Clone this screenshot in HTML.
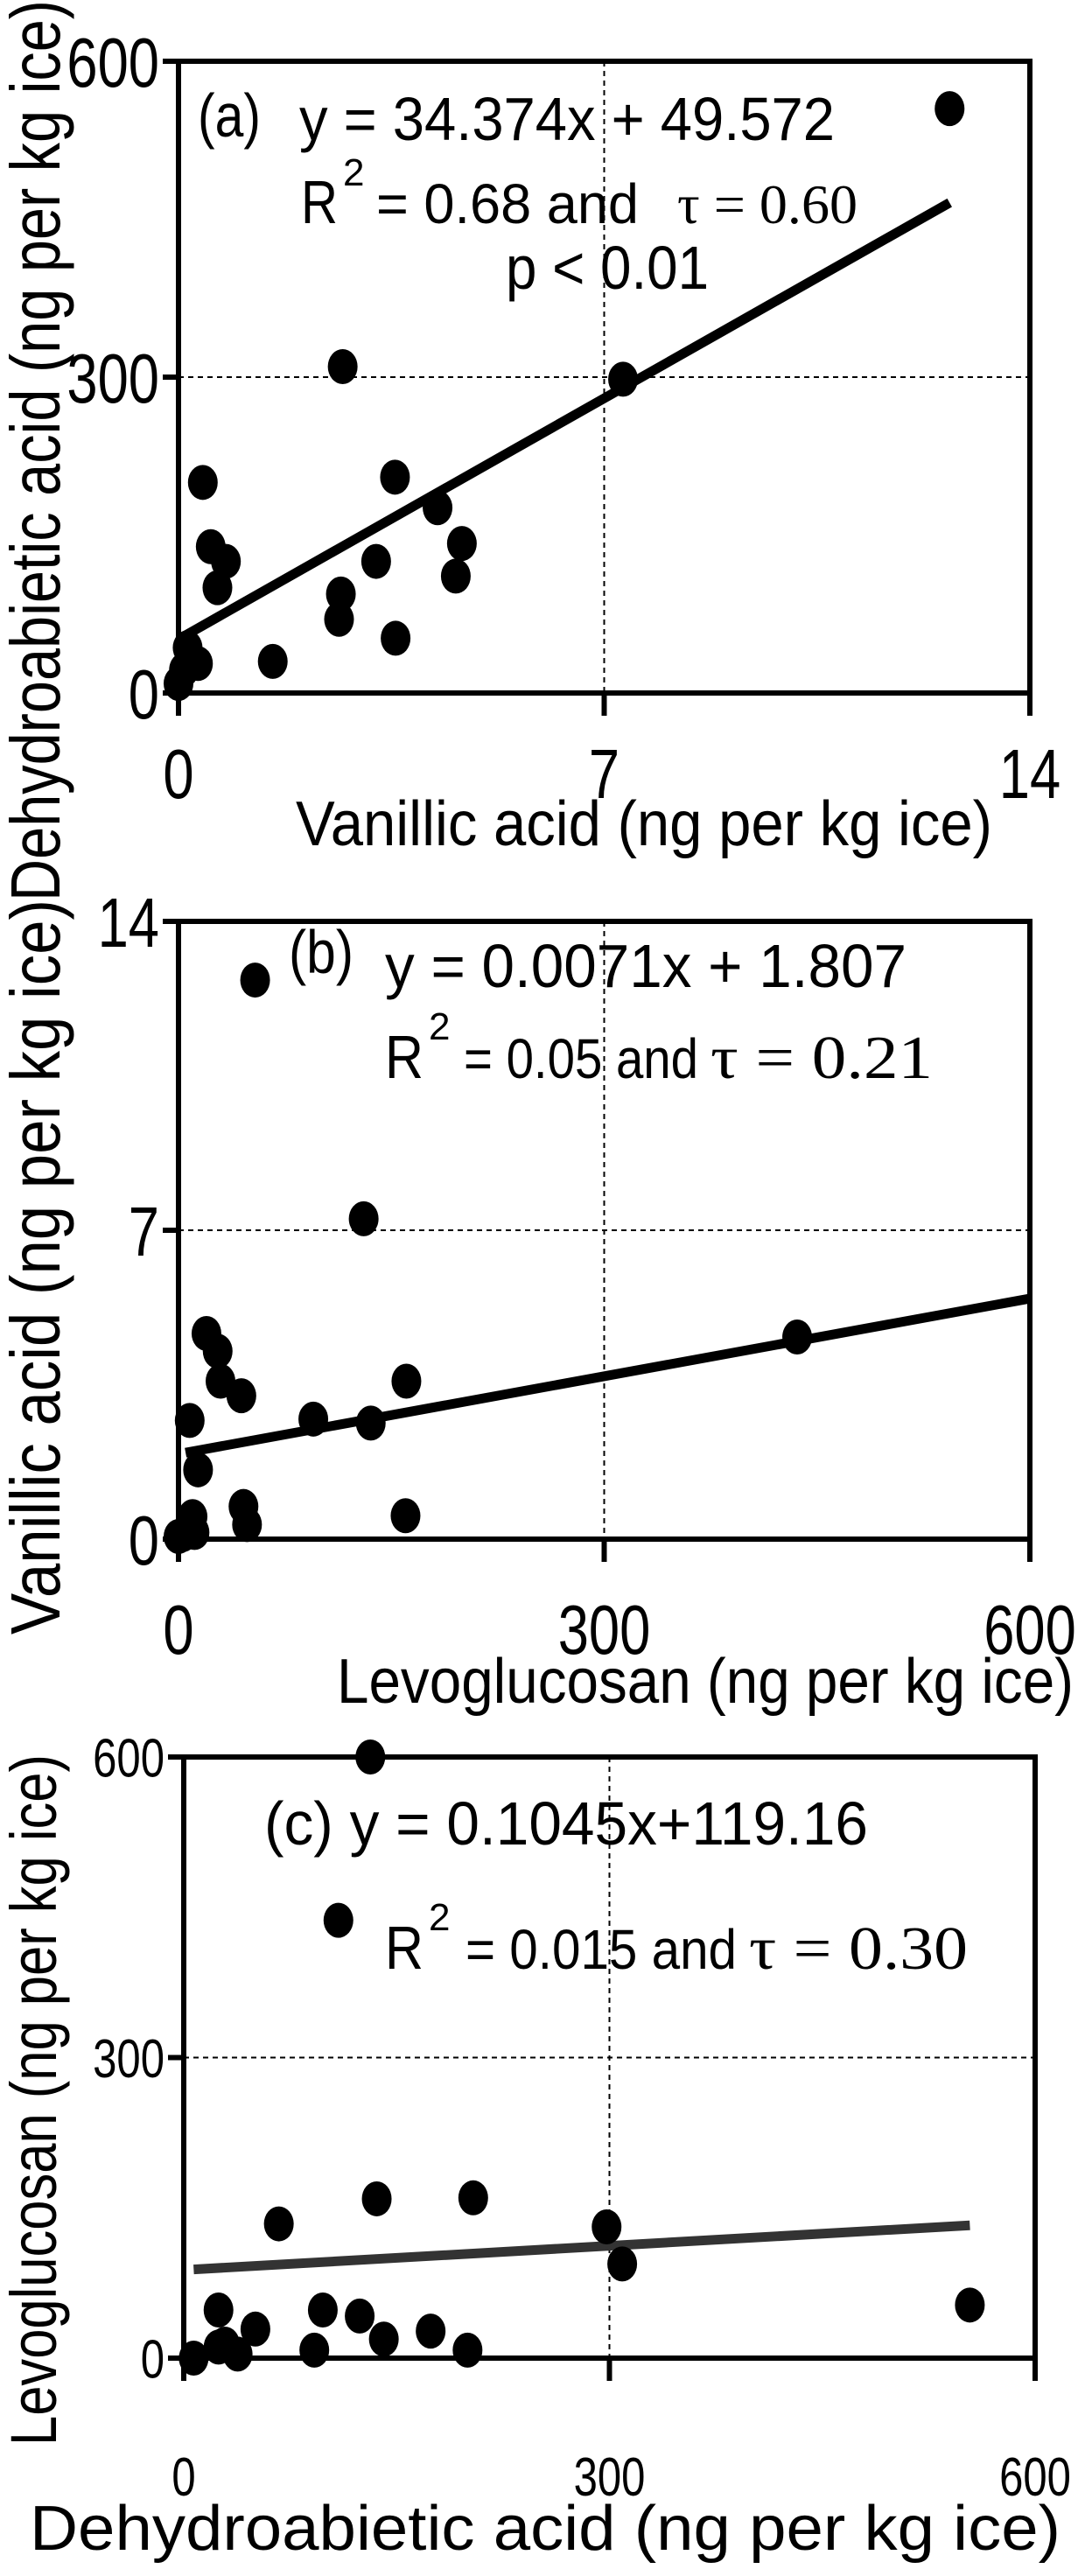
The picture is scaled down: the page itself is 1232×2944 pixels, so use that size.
<!DOCTYPE html>
<html><head><meta charset="utf-8"><style>
html,body{margin:0;padding:0;background:#fff;}
svg{display:block;font-family:"Liberation Sans",Arial,sans-serif;}
.serif{font-family:"Liberation Serif",serif;}
</style></head><body>
<svg id="fig" width="1232" height="2944" viewBox="0 0 1232 2944" xmlns="http://www.w3.org/2000/svg"></svg>
<script>
// Panel (a): Vanillic acid (x) vs Dehydroabietic acid (y)
const aX = [12.68, 7.31, 2.70, 0.40, 3.56, 4.26, 4.66, 4.56, 3.25, 0.53, 0.78, 0.64, 2.67, 2.64, 3.57, 1.55, 0.15, 0.32, 0.0, 0.09];
const aY = [555, 298, 310, 200, 205, 176, 142, 111, 125, 139, 125, 100, 94, 70, 52, 30, 43, 28, 9, 22];
const aFit = [32.7, 51];
const aFitRange = [0.05, 12.68];
const aXTicks = [0, 7, 14];
const aYTicks = [0, 300, 600];
// Panel (b): Levoglucosan (x) vs Vanillic acid (y)
const bX = [54, 130.5, 436, 19.7, 27.6, 29.6, 44.3, 160.6, 95, 135.5, 7.9, 13.8, 45.8, 48.3, 160, 9.9, 11.3, 0, 3];
const bY = [12.67, 7.26, 4.58, 4.66, 4.26, 3.58, 3.25, 3.58, 2.72, 2.63, 2.69, 1.57, 0.74, 0.33, 0.53, 0.51, 0.15, 0.06, 0.1];
const bFit = [0.00587, 1.93];
const bFitRange = [5, 600];
const bXTicks = [0, 300, 600];
const bYTicks = [0, 7, 14];
// Panel (c): Dehydroabietic acid (x) vs Levoglucosan (y)
const cX = [131.5, 109, 136, 204, 67, 298, 309, 554, 24.5, 98, 124, 50.5, 174, 141, 29, 24.5, 92, 200, 38, 7];
const cY = [600, 437, 159, 160, 134, 131, 94, 53, 48, 48, 42, 29, 27, 19, 14, 11, 8, 8, 4, 0];
const cFit = [0.0804, 88];
const cFitRange = [7, 554];
const cXTicks = [0, 300, 600];
const cYTicks = [0, 300, 600];

const NS = "http://www.w3.org/2000/svg";
const svg = document.getElementById('fig');
function mk(tag, attrs, parent) {
  const e = document.createElementNS(NS, tag);
  for (const k in attrs) e.setAttribute(k, attrs[k]);
  (parent || svg).appendChild(e);
  return e;
}
function txt(str, attrs, parent) { const t = mk('text', attrs, parent); t.textContent = str; return t; }

function panel(cfg) {
  const g = mk('g', {});
  
  
  const sx = v => cfg.x0 + (v - cfg.xmin) / (cfg.xmax - cfg.xmin) * (cfg.x1 - cfg.x0);
  const sy = v => cfg.y0 - (v - cfg.ymin) / (cfg.ymax - cfg.ymin) * (cfg.y0 - cfg.y1);
  const gx = mk('line', {x1: sx(cfg.xt[1]), x2: sx(cfg.xt[1]), y1: cfg.y1, y2: cfg.y0, stroke: '#000', 'stroke-width': 2, 'stroke-dasharray': '6,5'}, g);
  
  
  const gy = mk('line', {x1: cfg.x0, x2: cfg.x1, y1: sy(cfg.yt[1]), y2: sy(cfg.yt[1]), stroke: '#000', 'stroke-width': 2, 'stroke-dasharray': '6,5'}, g);
  
  
  const fr = mk('rect', {x: cfg.x0, y: cfg.y1, width: cfg.x1 - cfg.x0, height: cfg.y0 - cfg.y1, fill: 'none', stroke: '#000', 'stroke-width': 6}, g);
  
  
  cfg.xt.forEach(v => {
    const tk = mk('line', {x1: sx(v), x2: sx(v), y1: cfg.y0, y2: cfg.y0 + 26, stroke: '#000', 'stroke-width': 6}, g);
    
    
    const s = String(v);
    const lb = txt(s, {x: sx(v), y: cfg.xly, 'font-size': cfg.tfs, 'text-anchor': 'middle', textLength: s.length * cfg.tfs * 0.44, lengthAdjust: 'spacingAndGlyphs'}, g);
    
    
  });
  cfg.yt.forEach(v => {
    const tk = mk('line', {x1: cfg.x0 - 18, x2: cfg.x0, y1: sy(v), y2: sy(v), stroke: '#000', 'stroke-width': 6}, g);
    
    
    const s = String(v);
    const lb = txt(s, {x: cfg.x0 - 22, y: sy(v) + cfg.tfs * 0.36, 'font-size': cfg.tfs, 'text-anchor': 'end', textLength: s.length * cfg.tfs * 0.44, lengthAdjust: 'spacingAndGlyphs'}, g);
    
    
  });
  const fl = mk('line', {x1: sx(cfg.fr[0]), y1: sy(cfg.fit[0] * cfg.fr[0] + cfg.fit[1]), x2: sx(cfg.fr[1]), y2: sy(cfg.fit[0] * cfg.fr[1] + cfg.fit[1]), stroke: cfg.fitColor, 'stroke-width': 11}, g);
  
  
  cfg.xs.forEach((xv, i) => {
    const p = mk('ellipse', {cx: sx(xv), cy: sy(cfg.ys[i]), rx: 17, ry: 20, fill: '#000'}, g);
    
    
  });
  const xt = txt(cfg.xtitle, {x: cfg.xtx, y: cfg.xty, 'font-size': 72, textLength: cfg.xtlen, lengthAdjust: 'spacingAndGlyphs'}, g);
  
  
  const yt = txt(cfg.ytitle, {x: 0, y: 0, 'font-size': cfg.ytfs, 'text-anchor': 'middle', textLength: cfg.ytlen, lengthAdjust: 'spacingAndGlyphs', transform: 'translate(' + cfg.ytx + ',' + cfg.ytcy + ') rotate(-90)'}, g);
  
  
  return g;
}

panel({name: 'panel-a', x0: 204, x1: 1177, y0: 792, y1: 70, xmin: 0, xmax: 14, ymin: 0, ymax: 600,
  xt: aXTicks, yt: aYTicks, xs: aX, ys: aY, fit: aFit, fr: aFitRange, fitColor: '#000', tfs: 80, xly: 912,
  xtitle: 'Vanillic acid (ng per kg ice)', xtx: 338, xty: 966, xtlen: 796,
  ytitle: 'Dehydroabietic acid (ng per kg ice)', ytx: 68, ytcy: 515, ytlen: 1030, ytfs: 80});
panel({name: 'panel-b', x0: 204, x1: 1177, y0: 1759, y1: 1053, xmin: 0, xmax: 600, ymin: 0, ymax: 14,
  xt: bXTicks, yt: bYTicks, xs: bX, ys: bY, fit: bFit, fr: bFitRange, fitColor: '#000', tfs: 80, xly: 1890,
  xtitle: 'Levoglucosan (ng per kg ice)', xtx: 385, xty: 1946, xtlen: 842,
  ytitle: 'Vanillic acid  (ng per kg ice)', ytx: 68, ytcy: 1448, ytlen: 840, ytfs: 80});
panel({name: 'panel-c', x0: 210, x1: 1183, y0: 2695, y1: 2008, xmin: 0, xmax: 600, ymin: 0, ymax: 600,
  xt: cXTicks, yt: cYTicks, xs: cX, ys: cY, fit: cFit, fr: cFitRange, fitColor: '#333', tfs: 62, xly: 2852,
  xtitle: 'Dehydroabietic acid  (ng per kg ice)', xtx: 34, xty: 2914, xtlen: 1178,
  ytitle: 'Levoglucosan   (ng per kg ice)', ytx: 64, ytcy: 2400, ytlen: 790, ytfs: 74});

function ann(name, parts) {
  const t = mk('text', {'font-size': 70});
  
  
  parts.forEach(p => {
    const s = mk('tspan', p.a, t);
    s.textContent = p.t;
  });
  return t;
}
ann('panel-a-label', [{t: '(a)', a: {x: 226, y: 156, textLength: 72, lengthAdjust: 'spacingAndGlyphs'}}]);
ann('equation-a', [{t: 'y = 34.374x + 49.572', a: {x: 342, y: 160, textLength: 612, lengthAdjust: 'spacingAndGlyphs'}}]);
ann('stats-a', [
  {t: 'R', a: {x: 344, y: 255, 'font-size': 70, textLength: 42, lengthAdjust: 'spacingAndGlyphs'}},
  {t: '2', a: {x: 392, y: 212, 'font-size': 44}},
  {t: '= 0.68  and', a: {x: 430, y: 255, 'font-size': 64, textLength: 300, lengthAdjust: 'spacingAndGlyphs'}},
  {t: 'τ = 0.60', a: {x: 774, y: 255, 'font-size': 64, class: 'serif', textLength: 206, lengthAdjust: 'spacingAndGlyphs'}}]);
ann('p-value-a', [{t: 'p < 0.01', a: {x: 578, y: 330, textLength: 232, lengthAdjust: 'spacingAndGlyphs'}}]);

ann('panel-b-label', [{t: '(b)', a: {x: 330, y: 1112, textLength: 74, lengthAdjust: 'spacingAndGlyphs'}}]);
ann('equation-b', [{t: 'y = 0.0071x + 1.807', a: {x: 440, y: 1128, textLength: 596, lengthAdjust: 'spacingAndGlyphs'}}]);
ann('stats-b', [
  {t: 'R', a: {x: 440, y: 1232, textLength: 44, lengthAdjust: 'spacingAndGlyphs'}},
  {t: '2', a: {x: 490, y: 1188, 'font-size': 44}},
  {t: '= 0.05 and', a: {x: 530, y: 1232, 'font-size': 64, textLength: 268, lengthAdjust: 'spacingAndGlyphs'}},
  {t: 'τ = 0.21', a: {x: 812, y: 1232, 'font-size': 70, class: 'serif', textLength: 254, lengthAdjust: 'spacingAndGlyphs'}}]);

ann('equation-c', [{t: '(c) y = 0.1045x+119.16', a: {x: 302, y: 2108, textLength: 690, lengthAdjust: 'spacingAndGlyphs'}}]);
ann('stats-c', [
  {t: 'R', a: {x: 440, y: 2250, textLength: 44, lengthAdjust: 'spacingAndGlyphs'}},
  {t: '2', a: {x: 490, y: 2206, 'font-size': 44}},
  {t: '= 0.015 and', a: {x: 532, y: 2250, 'font-size': 64, textLength: 310, lengthAdjust: 'spacingAndGlyphs'}},
  {t: 'τ = 0.30', a: {x: 856, y: 2250, 'font-size': 70, class: 'serif', textLength: 250, lengthAdjust: 'spacingAndGlyphs'}}]);
</script>
</body></html>
